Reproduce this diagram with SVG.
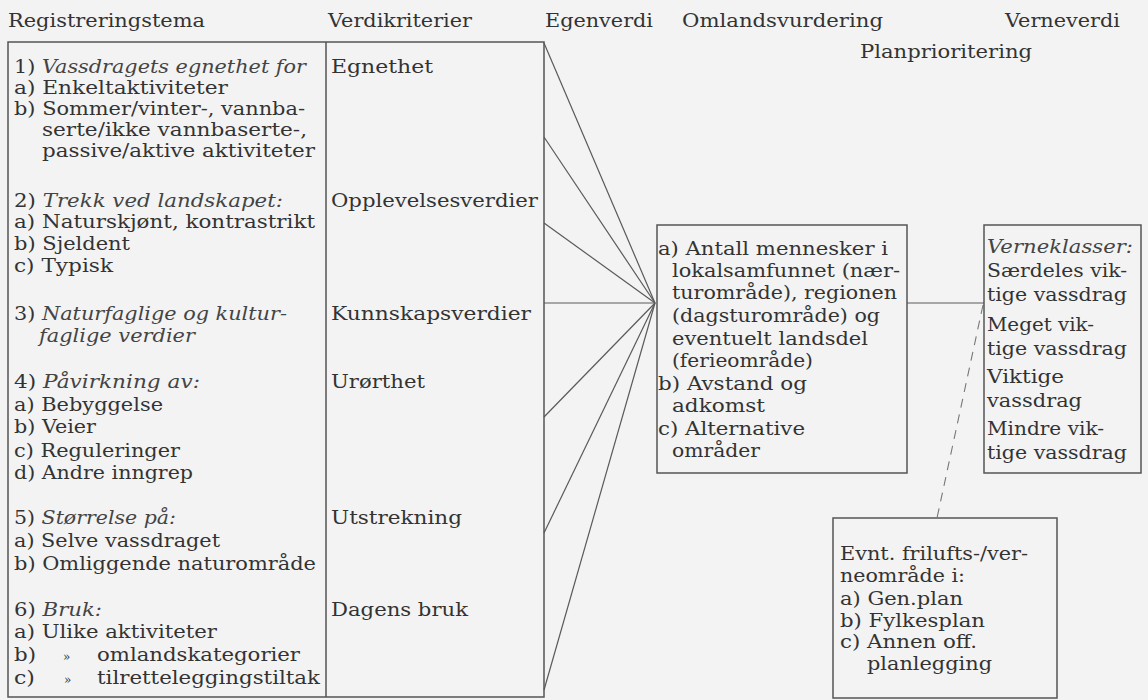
<svg xmlns="http://www.w3.org/2000/svg" width="1148" height="700" viewBox="0 0 1148 700">
<style>
.bg{fill:#f3f3f3}
.box{fill:none;stroke:#555;stroke-width:1.5}
.ln{stroke:#5a5a5a;stroke-width:1.2;fill:none}
.dash{stroke:#777;stroke-width:1.1;stroke-dasharray:9 7;fill:none}
text{font-family:"DejaVu Serif","Liberation Serif",serif;font-size:18px;fill:#333}
.i{font-style:italic;fill:#444}
</style>
<rect class="bg" x="0" y="0" width="1148" height="700"/>
<g id="headers">
<text x="8" y="27" textLength="197" lengthAdjust="spacingAndGlyphs">Registreringstema</text>
<text x="328" y="27" textLength="144" lengthAdjust="spacingAndGlyphs">Verdikriterier</text>
<text x="545" y="27" textLength="108" lengthAdjust="spacingAndGlyphs">Egenverdi</text>
<text x="682" y="27" textLength="201" lengthAdjust="spacingAndGlyphs">Omlandsvurdering</text>
<text x="1005" y="27" textLength="115" lengthAdjust="spacingAndGlyphs">Verneverdi</text>
<text x="860" y="58" textLength="172" lengthAdjust="spacingAndGlyphs">Planprioritering</text>
</g>
<g id="connectors">
<line class="ln" x1="544" y1="43" x2="655" y2="303"/>
<line class="ln" x1="544" y1="137" x2="655" y2="303"/>
<line class="ln" x1="544" y1="223" x2="655" y2="303"/>
<line class="ln" x1="544" y1="303" x2="655" y2="303"/>
<line class="ln" x1="544" y1="417" x2="655" y2="303"/>
<line class="ln" x1="544" y1="533" x2="655" y2="303"/>
<line class="ln" x1="544" y1="690" x2="655" y2="303"/>
<line class="ln" x1="907" y1="303" x2="984" y2="303"/>
<line class="dash" x1="983" y1="305" x2="937" y2="518"/>
</g>
<g id="registrering">
<rect class="box" x="8" y="42" width="536" height="655"/>
<line class="box" x1="326" y1="42" x2="326" y2="697"/>
<text x="14" y="73" textLength="292" lengthAdjust="spacingAndGlyphs">1) <tspan class="i">Vassdragets egnethet for</tspan></text>
<text x="14" y="94" textLength="214" lengthAdjust="spacingAndGlyphs">a) Enkeltaktiviteter</text>
<text x="14" y="115" textLength="291" lengthAdjust="spacingAndGlyphs">b) Sommer/vinter-, vannba-</text>
<text x="42" y="136" textLength="265" lengthAdjust="spacingAndGlyphs">serte/ikke vannbaserte-,</text>
<text x="42" y="157" textLength="273" lengthAdjust="spacingAndGlyphs">passive/aktive aktiviteter</text>
<text x="14" y="207" textLength="269" lengthAdjust="spacingAndGlyphs">2) <tspan class="i">Trekk ved landskapet:</tspan></text>
<text x="14" y="228" textLength="301" lengthAdjust="spacingAndGlyphs">a) Naturskjønt, kontrastrikt</text>
<text x="14" y="250" textLength="116" lengthAdjust="spacingAndGlyphs">b) Sjeldent</text>
<text x="14" y="272" textLength="99" lengthAdjust="spacingAndGlyphs">c) Typisk</text>
<text x="14" y="320" textLength="273" lengthAdjust="spacingAndGlyphs">3) <tspan class="i">Naturfaglige og kultur-</tspan></text>
<text x="39" y="342" textLength="156" lengthAdjust="spacingAndGlyphs" class="i">faglige verdier</text>
<text x="14" y="388" textLength="186" lengthAdjust="spacingAndGlyphs">4) <tspan class="i">Påvirkning av:</tspan></text>
<text x="14" y="411" textLength="149" lengthAdjust="spacingAndGlyphs">a) Bebyggelse</text>
<text x="14" y="433" textLength="82" lengthAdjust="spacingAndGlyphs">b) Veier</text>
<text x="14" y="457" textLength="166" lengthAdjust="spacingAndGlyphs">c) Reguleringer</text>
<text x="14" y="479" textLength="179" lengthAdjust="spacingAndGlyphs">d) Andre inngrep</text>
<text x="14" y="524" textLength="162" lengthAdjust="spacingAndGlyphs">5) <tspan class="i">Størrelse på:</tspan></text>
<text x="14" y="547" textLength="206" lengthAdjust="spacingAndGlyphs">a) Selve vassdraget</text>
<text x="14" y="570" textLength="302" lengthAdjust="spacingAndGlyphs">b) Omliggende naturområde</text>
<text x="14" y="616" textLength="88" lengthAdjust="spacingAndGlyphs">6) <tspan class="i">Bruk:</tspan></text>
<text x="14" y="638" textLength="203" lengthAdjust="spacingAndGlyphs">a) Ulike aktiviteter</text>
<text x="14" y="661" textLength="22" lengthAdjust="spacingAndGlyphs">b)</text>
<text x="63" y="661" style="font-size:12px">»</text>
<text x="97" y="661" textLength="203" lengthAdjust="spacingAndGlyphs">omlandskategorier</text>
<text x="14" y="684" textLength="21" lengthAdjust="spacingAndGlyphs">c)</text>
<text x="64" y="684" style="font-size:12px">»</text>
<text x="97" y="684" textLength="223" lengthAdjust="spacingAndGlyphs">tilretteleggingstiltak</text>
</g>
<g id="verdikriterier">
<text x="331" y="73" textLength="102" lengthAdjust="spacingAndGlyphs">Egnethet</text>
<text x="331" y="207" textLength="207" lengthAdjust="spacingAndGlyphs">Opplevelsesverdier</text>
<text x="331" y="320" textLength="200" lengthAdjust="spacingAndGlyphs">Kunnskapsverdier</text>
<text x="331" y="388" textLength="94" lengthAdjust="spacingAndGlyphs">Urørthet</text>
<text x="331" y="524" textLength="131" lengthAdjust="spacingAndGlyphs">Utstrekning</text>
<text x="331" y="616" textLength="137" lengthAdjust="spacingAndGlyphs">Dagens bruk</text>
</g>
<g id="omland">
<rect class="box" x="657" y="225" width="250" height="248"/>
<text x="658" y="255" textLength="230" lengthAdjust="spacingAndGlyphs">a) Antall mennesker i</text>
<text x="672" y="277" textLength="228" lengthAdjust="spacingAndGlyphs">lokalsamfunnet (nær-</text>
<text x="672" y="299" textLength="225" lengthAdjust="spacingAndGlyphs">turområde), regionen</text>
<text x="672" y="322" textLength="208" lengthAdjust="spacingAndGlyphs">(dagsturområde) og</text>
<text x="672" y="345" textLength="196" lengthAdjust="spacingAndGlyphs">eventuelt landsdel</text>
<text x="672" y="367" textLength="141" lengthAdjust="spacingAndGlyphs">(ferieområde)</text>
<text x="658" y="390" textLength="149" lengthAdjust="spacingAndGlyphs">b) Avstand og</text>
<text x="672" y="412" textLength="93" lengthAdjust="spacingAndGlyphs">adkomst</text>
<text x="658" y="435" textLength="147" lengthAdjust="spacingAndGlyphs">c) Alternative</text>
<text x="672" y="457" textLength="88" lengthAdjust="spacingAndGlyphs">områder</text>
</g>
<g id="verneklasser">
<rect class="box" x="984" y="225" width="157" height="248"/>
<text x="987" y="253" textLength="146" lengthAdjust="spacingAndGlyphs" class="i">Verneklasser:</text>
<text x="987" y="277" textLength="140" lengthAdjust="spacingAndGlyphs">Særdeles vik-</text>
<text x="987" y="301" textLength="140" lengthAdjust="spacingAndGlyphs">tige vassdrag</text>
<text x="987" y="331" textLength="107" lengthAdjust="spacingAndGlyphs">Meget vik-</text>
<text x="987" y="355" textLength="140" lengthAdjust="spacingAndGlyphs">tige vassdrag</text>
<text x="987" y="383" textLength="77" lengthAdjust="spacingAndGlyphs">Viktige</text>
<text x="987" y="407" textLength="95" lengthAdjust="spacingAndGlyphs">vassdrag</text>
<text x="987" y="435" textLength="117" lengthAdjust="spacingAndGlyphs">Mindre vik-</text>
<text x="987" y="459" textLength="140" lengthAdjust="spacingAndGlyphs">tige vassdrag</text>
</g>
<g id="planbox">
<rect class="box" x="833" y="518" width="224" height="180"/>
<text x="840" y="560" textLength="188" lengthAdjust="spacingAndGlyphs">Evnt. frilufts-/ver-</text>
<text x="840" y="582" textLength="125" lengthAdjust="spacingAndGlyphs">neområde i:</text>
<text x="840" y="605" textLength="123" lengthAdjust="spacingAndGlyphs">a) Gen.plan</text>
<text x="840" y="627" textLength="145" lengthAdjust="spacingAndGlyphs">b) Fylkesplan</text>
<text x="840" y="648" textLength="137" lengthAdjust="spacingAndGlyphs">c) Annen off.</text>
<text x="867" y="670" textLength="125" lengthAdjust="spacingAndGlyphs">planlegging</text>
</g>
</svg>
